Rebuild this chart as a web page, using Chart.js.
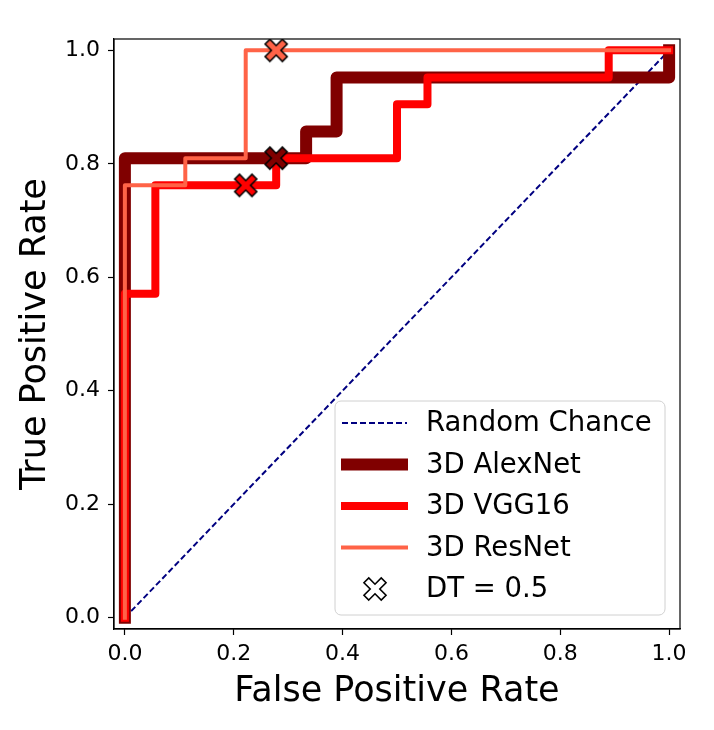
<!DOCTYPE html>
<html>
<head>
<meta charset="utf-8">
<script src="https://cdn.jsdelivr.net/npm/chart.js@4/dist/chart.umd.min.js"></script>
<style>body{margin:0;background:#fff}</style>
</head>
<body>
<canvas id="myChart" width="714" height="730"></canvas>
<script>
// ROC data
var randFpr = [0, 1];
var randTpr = [0, 1];
var alexFpr = [0, 0, 0.333, 0.333, 0.389, 0.389, 1.0, 1.0];
var alexTpr = [0, 0.810, 0.810, 0.857, 0.857, 0.952, 0.952, 1.0];
var vggFpr = [0, 0, 0.056, 0.056, 0.278, 0.278, 0.5, 0.5, 0.556, 0.556, 0.889, 0.889, 1.0];
var vggTpr = [0, 0.571, 0.571, 0.762, 0.762, 0.810, 0.810, 0.905, 0.905, 0.952, 0.952, 1.0, 1.0];
var resFpr = [0, 0, 0.111, 0.111, 0.222, 0.222, 1.0];
var resTpr = [0, 0.762, 0.762, 0.810, 0.810, 1.0, 1.0];
// decision threshold = 0.5 points (AlexNet, VGG16, ResNet)
var dtFpr = [0.278, 0.222, 0.278];
var dtTpr = [0.810, 0.762, 1.0];
var xTicks = [0, 0.2, 0.4, 0.6, 0.8, 1.0];
var yTicks = [0, 0.2, 0.4, 0.6, 0.8, 1.0];

var FONT = 'DejaVu Sans';
var cAlex = '#800000', cVgg = '#ff0000', cRes = '#ff6347', cRand = '#000080';

function pts(xs, ys) {
    return xs.map(function (v, i) { return {x: v, y: ys[i]}; });
}

// filled "X" marker with black edge
function makeX(fill) {
    var s = 30, c = document.createElement('canvas');
    c.width = s; c.height = s;
    var g = c.getContext('2d');
    var a = 12.2, t = 3.4;
    var p = [[t,a],[t,t],[a,t],[a,-t],[t,-t],[t,-a],[-t,-a],[-t,-t],[-a,-t],[-a,t],[-t,t],[-t,a]];
    g.translate(s / 2, s / 2);
    g.rotate(Math.PI / 4);
    g.beginPath();
    p.forEach(function (q, i) { if (i) g.lineTo(q[0], q[1]); else g.moveTo(q[0], q[1]); });
    g.closePath();
    g.fillStyle = fill;
    g.fill();
    g.lineWidth = 1.6;
    g.strokeStyle = '#000';
    g.stroke();
    return c;
}

var boxPlugin = {
    id: 'box',
    afterDatasetsDraw: function (chart) {
        var a = chart.chartArea, ctx = chart.ctx;
        ctx.save();
        ctx.strokeStyle = '#000';
        ctx.lineWidth = 1.2;
        ctx.strokeRect(a.left, a.top, a.right - a.left, a.bottom - a.top);
        ctx.restore();
    }
};

var legendItems = [
    {text: 'Random Chance', type: 'dash', color: cRand, width: 2},
    {text: '3D AlexNet', type: 'line', color: cAlex, width: 12},
    {text: '3D VGG16', type: 'line', color: cVgg, width: 8},
    {text: '3D ResNet', type: 'line', color: cRes, width: 4},
    {text: 'DT = 0.5', type: 'marker'}
];

var legendPlugin = {
    id: 'insideLegend',
    afterDraw: function (chart) {
        var a = chart.chartArea, ctx = chart.ctx;
        var w = 330, h = 214;
        var x0 = a.right - 15 - w, y0 = a.bottom - 14 - h;
        ctx.save();
        ctx.beginPath();
        ctx.roundRect(x0, y0, w, h, 6);
        ctx.fillStyle = 'rgba(255,255,255,0.85)';
        ctx.fill();
        ctx.strokeStyle = '#d0d0d0';
        ctx.lineWidth = 1;
        ctx.stroke();
        ctx.font = '27.5px "' + FONT + '"';
        ctx.textBaseline = 'middle';
        ctx.fillStyle = '#000';
        var mk = makeX('#ffffff');
        legendItems.forEach(function (it, i) {
            var cy = y0 + 22 + i * 41.5;
            var hx0 = x0 + 6, hx1 = x0 + 73;
            if (it.type === 'marker') {
                ctx.drawImage(mk, x0 + 40 - mk.width / 2, cy - mk.height / 2);
            } else {
                ctx.beginPath();
                ctx.moveTo(hx0 + it.width / 2, cy);
                ctx.lineTo(hx1 - it.width / 2, cy);
                ctx.strokeStyle = it.color;
                ctx.lineWidth = it.width;
                ctx.lineCap = it.type === 'dash' ? 'butt' : 'square';
                ctx.setLineDash(it.type === 'dash' ? [6, 3] : []);
                ctx.stroke();
                ctx.setLineDash([]);
            }
            ctx.fillText(it.text, x0 + 91, cy + 1);
        });
        ctx.restore();
    }
};

function axis(ticksArr, title, isX) {
    return {
        type: 'linear',
        min: -0.02,
        max: 1.02,
        afterBuildTicks: function (s) { s.ticks = ticksArr.map(function (v) { return {value: v}; }); },
        afterFit: function (s) { if (isX) s.height = 101; else s.width = 114; },
        ticks: {
            autoSkip: false,
            maxRotation: 0,
            padding: isX ? 6 : 8,
            color: '#000',
            font: {family: FONT, size: 22},
            callback: function (v) { return Number(v).toFixed(1); }
        },
        grid: {drawOnChartArea: false, drawTicks: true, tickLength: 6, tickColor: '#000', tickWidth: 1.2},
        border: {display: true, color: '#000', width: 1.2},
        title: {
            display: true,
            text: title,
            color: '#000',
            font: {family: FONT, size: 35},
            padding: isX ? {top: 0, bottom: 17} : {top: 15, bottom: 0}
        }
    };
}

var ctx = document.getElementById('myChart').getContext('2d');
var chart = new Chart(ctx, {
    type: 'scatter',
    data: {
        datasets: [{
            label: 'Random Chance',
            data: pts(randFpr, randTpr),
            showLine: true,
            borderColor: cRand,
            borderWidth: 2,
            borderDash: [6, 3],
            pointRadius: 0,
            order: 5
        }, {
            label: '3D AlexNet',
            data: pts(alexFpr, alexTpr),
            showLine: true,
            borderColor: cAlex,
            borderWidth: 12,
            borderJoinStyle: 'round',
            borderCapStyle: 'square',
            pointRadius: 0,
            order: 4
        }, {
            label: '3D VGG16',
            data: pts(vggFpr, vggTpr),
            showLine: true,
            borderColor: cVgg,
            borderWidth: 8,
            borderJoinStyle: 'round',
            borderCapStyle: 'square',
            pointRadius: 0,
            order: 3
        }, {
            label: '3D ResNet',
            data: pts(resFpr, resTpr),
            showLine: true,
            borderColor: cRes,
            borderWidth: 4,
            borderJoinStyle: 'round',
            borderCapStyle: 'square',
            pointRadius: 0,
            order: 2
        }, {
            label: 'DT = 0.5',
            data: pts(dtFpr, dtTpr),
            showLine: false,
            pointStyle: [makeX(cAlex), makeX(cVgg), makeX(cRes)],
            pointRadius: 12,
            order: 1
        }]
    },
    options: {
        responsive: false,
        animation: false,
        layout: {padding: {left: 0, right: 34, top: 39, bottom: 0}},
        plugins: {legend: {display: false}, tooltip: {enabled: false}},
        scales: {
            x: axis(xTicks, 'False Positive Rate', true),
            y: axis(yTicks, 'True Positive Rate', false)
        }
    },
    plugins: [boxPlugin, legendPlugin]
});
</script>
</body>
</html>
